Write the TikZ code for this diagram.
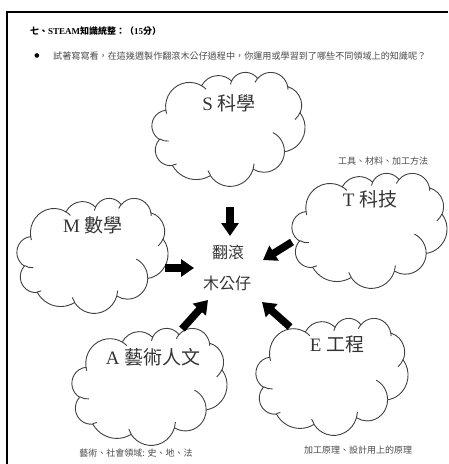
\documentclass[tikz,border=0pt]{standalone}
\usepackage{fontspec}
\setmainfont{Liberation Serif}
\newfontfamily\cjk{Noto Sans CJK TC}
\newfontfamily\symb{DejaVu Sans}
\usetikzlibrary{arrows.meta}
\definecolor{cloudline}{HTML}{404040}
\definecolor{txtdark}{HTML}{333333}
\definecolor{txtsmall}{HTML}{4A4A4A}
\newcommand\cloudarc[4]{%
  \pgfmathsetmacro\cldS{atan2((#1)*sin(#3),(#2)*cos(#3))}%
  \pgfmathsetmacro\cldE{\cldS+mod(atan2((#1)*sin((#3)+(#4)),(#2)*cos((#3)+(#4)))-\cldS+720,360)}%
  \pgfpatharcaxes{\cldS}{\cldE}{\pgfpointxy{#1}{0}}{\pgfpointxy{0}{#2}}}
\newcommand\wordcloud[5]{%
  \begin{scope}[shift={(#2,#3)}, x=#4pt/43.2, y=-#5pt/43.2]
    \coordinate (#1) at (21.6,21.6);
    \pgfsetstrokecolor{cloudline}\pgfsetlinewidth{0.9pt}%
    \pgfpathmoveto{\pgfpointxy{3.9}{14.37}}%
    \cloudarc{6.753}{9.19}{-190.4875}{123.7805}%
    \cloudarc{5.333}{7.267}{-144.1024}{89.9452}%
    \cloudarc{4.365}{5.945}{-145.8079}{99.7230}%
    \cloudarc{4.857}{6.595}{-130.9861}{117.2417}%
    \cloudarc{5.333}{7.273}{-78.7089}{109.0269}%
    \cloudarc{6.775}{9.22}{-46.2673}{130.2690}%
    \cloudarc{5.785}{7.867}{0.6250}{114.0333}%
    \cloudarc{6.752}{9.215}{22.4516}{115.1726}%
    \cloudarc{7.72}{10.543}{66.2426}{75.7110}%
    \cloudarc{4.36}{5.918}{-274.9421}{146.7356}%
    \cloudarc{4.345}{5.945}{-246.8285}{152.5189}%
    \pgfpathclose
    \pgfusepath{stroke}%
    \pgfpathmoveto{\pgfpointxy{4.693}{26.177}}\cloudarc{4.345}{5.945}{86.742}{26.4295}%
    \pgfpathmoveto{\pgfpointxy{6.928}{34.899}}\cloudarc{4.36}{5.918}{73.6105}{11.4475}%
    \pgfpathmoveto{\pgfpointxy{16.478}{39.09}}\cloudarc{6.752}{9.215}{137.6242}{14.0811}%
    \pgfpathmoveto{\pgfpointxy{28.827}{34.751}}\cloudarc{6.752}{9.215}{6.4533}{15.9984}%
    \pgfpathmoveto{\pgfpointxy{34.129}{22.954}}\cloudarc{5.785}{7.867}{-70.2924}{70.9174}%
    \pgfpathmoveto{\pgfpointxy{41.798}{15.354}}\cloudarc{5.333}{7.273}{30.3180}{27.7515}%
    \pgfpathmoveto{\pgfpointxy{38.324}{5.426}}\cloudarc{4.857}{6.595}{-13.7443}{14.8589}%
    \pgfpathmoveto{\pgfpointxy{29.078}{3.952}}\cloudarc{4.857}{6.595}{-149.1815}{18.1954}%
    \pgfpathmoveto{\pgfpointxy{22.141}{4.72}}\cloudarc{4.365}{5.945}{-163.4943}{17.6864}%
    \pgfpathmoveto{\pgfpointxy{14.0}{5.192}}\cloudarc{6.753}{9.19}{-66.7070}{12.3194}%
    \pgfpathmoveto{\pgfpointxy{4.127}{15.789}}\cloudarc{6.753}{9.19}{157.6544}{11.8582}%
    \pgfusepath{stroke}%
  \end{scope}}
\tikzset{
  blockarrow/.style={line width=7.5pt, draw=black, -{Triangle[width=17pt,length=13pt]}},
  cloudtitle/.style={inner sep=0pt, text=txtdark, font=\fontsize{19}{19}\selectfont},
  centertext/.style={inner sep=0pt, text=txtdark, font=\cjk\fontsize{16}{16}\selectfont},
  smalllabel/.style={inner sep=0pt, text=txtsmall, font=\cjk\fontsize{9}{9}\selectfont},
  frameline/.style={line width=2pt, draw=black}
}
\begin{document}
\begin{tikzpicture}[x=1pt, y=-1pt]
\useasboundingbox (0,0) rectangle (448,464);
% frame
\coordinate (fb) at (7,464);
\coordinate (fc) at (7,12);
\coordinate (fr) at (448,12);
\draw[frameline] (fb) -- (fc) -- (fr);
% heading
\node[anchor=west, inner sep=0pt, text=black, font=\bfseries\fontsize{9}{9}\selectfont] (title) at (30,31)
  {{\cjk\bfseries 七、}STEAM{\cjk\bfseries 知識統整：（}15{\cjk\bfseries 分）}};
\node[inner sep=0pt, font=\symb\fontsize{6}{6}\selectfont] (bullet) at (37,56) {●};
\node[anchor=west, smalllabel, text=txtsmall, font=\cjk\fontsize{9.1}{9.1}\selectfont] (question) at (53,56)
  {試著寫寫看，在這幾週製作翻滾木公仔過程中，你運用或學習到了哪些不同領域上的知識呢？};
% clouds
\wordcloud{Scl}{152}{72}{153}{114}
\wordcloud{Tcl}{292}{173}{155}{115}
\wordcloud{Mcl}{17}{198}{151}{115}
\wordcloud{Acl}{72}{328}{155}{117}
\wordcloud{Ecl}{256}{318}{152}{117}
% cloud titles
\node[cloudtitle] (Stxt) at (229,103) {S {\cjk 科學}};
\node[cloudtitle] (Ttxt) at (370,199) {T {\cjk 科技}};
\node[cloudtitle] (Mtxt) at (93,225) {M {\cjk 數學}};
\node[cloudtitle] (Atxt) at (153,357) {A {\cjk 藝術人文}};
\node[cloudtitle] (Etxt) at (337,344) {E {\cjk 工程}};
% small labels
\node[smalllabel] (Tlab) at (383,161) {工具、材料、加工方法};
\node[smalllabel] (Alab) at (136,453) {藝術、社會領域: 史、地、法};
\node[smalllabel] (Elab) at (358,450) {加工原理、設計用上的原理};
% center
\node[centertext] (c1) at (228,252) {翻滾};
\node[centertext] (c2) at (227,283) {木公仔};
% arrows
\coordinate (Sa) at (230,207); \coordinate (Sb) at (230,236);
\coordinate (Ma) at (165,268); \coordinate (Mb) at (194,268);
\coordinate (Ta) at (292,242); \coordinate (Tb) at (263,260);
\coordinate (Aa) at (182,329); \coordinate (Ab) at (208,300);
\coordinate (Ea) at (290,327); \coordinate (Eb) at (262,302);
\draw[blockarrow] (Sa) -- (Sb);
\draw[blockarrow] (Ma) -- (Mb);
\draw[blockarrow] (Ta) -- (Tb);
\draw[blockarrow] (Aa) -- (Ab);
\draw[blockarrow] (Ea) -- (Eb);
\end{tikzpicture}
\end{document}
